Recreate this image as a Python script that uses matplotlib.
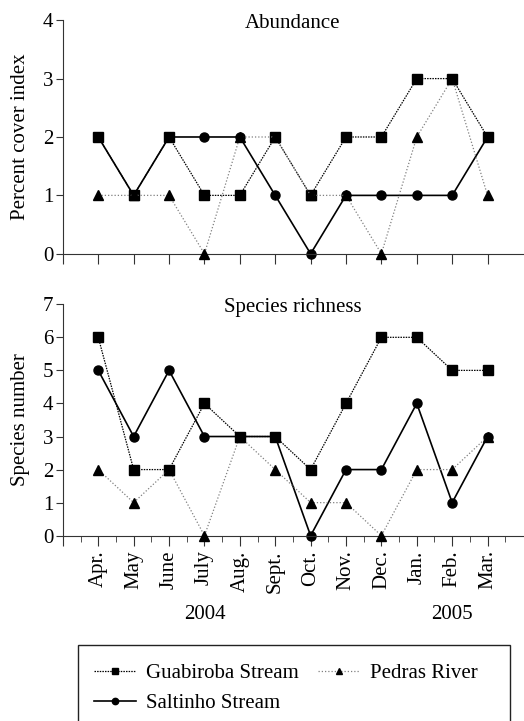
import numpy as np
import matplotlib
matplotlib.use("Agg")
import matplotlib.pyplot as plt
import matplotlib.patches as patch
from matplotlib.ticker import FixedLocator

plt.rcParams['font.family'] = ['Liberation Serif', 'DejaVu Serif']
plt.rcParams['font.size'] = 15

months = ['Apr.', 'May', 'June', 'July', 'Aug.', 'Sept.', 'Oct.', 'Nov.',
          'Dec.', 'Jan.', 'Feb.', 'Mar.']
years = ['2004', '2005']
year_pos = [3, 10]

# Abundance (percent cover index)
ab_guabiroba = [2, 1, 2, 1, 1, 2, 1, 2, 2, 3, 3, 2]
ab_saltinho = [2, 1, 2, 2, 2, 1, 0, 1, 1, 1, 1, 2]
ab_pedras = [1, 1, 1, 0, 2, 2, 1, 1, 0, 2, 3, 1]

# Species richness
sr_guabiroba = [6, 2, 2, 4, 3, 3, 2, 4, 6, 6, 5, 5]
sr_saltinho = [5, 3, 5, 3, 3, 3, 0, 2, 2, 4, 1, 3]
sr_pedras = [2, 1, 2, 0, 3, 2, 1, 1, 0, 2, 2, 3]

x = np.arange(len(months))

styles = {
    'Guabiroba Stream': dict(color='black', lw=0.9, dashes=(1.2, 0.9), marker='s', ms=6.5),
    'Saltinho Stream': dict(color='black', lw=1.2, ls='-', marker='o', ms=6.5),
    'Pedras River': dict(color='#808080', lw=0.9, dashes=(1, 1.6), marker='^', ms=7,
                         mfc='black', mec='black'),
}

fig = plt.figure(figsize=(5.24, 7.21), dpi=100)
ax1 = fig.add_axes([0.120, 0.648, 0.878, 0.324])
ax2 = fig.add_axes([0.120, 0.257, 0.878, 0.321])


def draw(ax, g, s, p):
    lines = []
    lines += ax.plot(x, g, label='Guabiroba Stream', **styles['Guabiroba Stream'], zorder=3)
    lines += ax.plot(x, s, label='Saltinho Stream', **styles['Saltinho Stream'], zorder=2)
    lines += ax.plot(x, p, label='Pedras River', **styles['Pedras River'], zorder=4)
    for sp in ['top', 'right']:
        ax.spines[sp].set_visible(False)
    ax.spines['left'].set_color('#333333')
    ax.spines['bottom'].set_color('#333333')
    ax.set_xlim(-1, 12)
    ax.tick_params(axis='y', direction='out', length=5, color='#333333', pad=2)
    ax.tick_params(axis='x', which='major', direction='out', length=7, color='#333333')
    return lines


draw(ax1, ab_guabiroba, ab_saltinho, ab_pedras)
ax1.set_ylim(0, 4)
ax1.set_yticks(range(5))
ax1.xaxis.set_major_locator(FixedLocator(np.arange(-1, 12)))
ax1.set_xticklabels([])
ax1.set_ylabel('Percent cover index', labelpad=9)
ax1.text(0.5, 0.985, 'Abundance', transform=ax1.transAxes, ha='center', va='center')

handles = draw(ax2, sr_guabiroba, sr_saltinho, sr_pedras)
ax2.set_ylim(0, 7)
ax2.set_yticks(range(8))
ax2.xaxis.set_major_locator(FixedLocator(np.arange(-1, 12)))
ax2.xaxis.set_minor_locator(FixedLocator(np.arange(-0.5, 12, 1.0)))
ax2.tick_params(axis='x', which='minor', direction='out', length=4, color='#333333')
ax2.set_xticklabels([''] + months, rotation=90, va='top')
ax2.set_ylabel('Species number', labelpad=9)
ax2.text(0.5, 0.985, 'Species richness', transform=ax2.transAxes, ha='center', va='center')
for xp, yr in zip(year_pos, years):
    ax2.text(xp, -0.34, yr, transform=ax2.get_xaxis_transform(), ha='center', va='center')

for a in (ax1, ax2):
    for l in a.get_lines():
        l.set_clip_on(False)

# legend with a frame that runs off the bottom of the figure
fig.patches.append(patch.Rectangle((0.149, -0.05), 0.824, 0.155, transform=fig.transFigure,
                                   fill=False, lw=1.0, ec='#222222'))
order = [handles[0], handles[1], handles[2]]
fig.legend(order, [h.get_label() for h in order], ncol=2, frameon=False,
           loc='upper left', bbox_to_anchor=(0.16, 0.094), handlelength=2.0,
           handletextpad=0.5, columnspacing=0.9, labelspacing=0.5, borderpad=0,
           markerscale=0.7)

fig.savefig('out.png', dpi=100)
